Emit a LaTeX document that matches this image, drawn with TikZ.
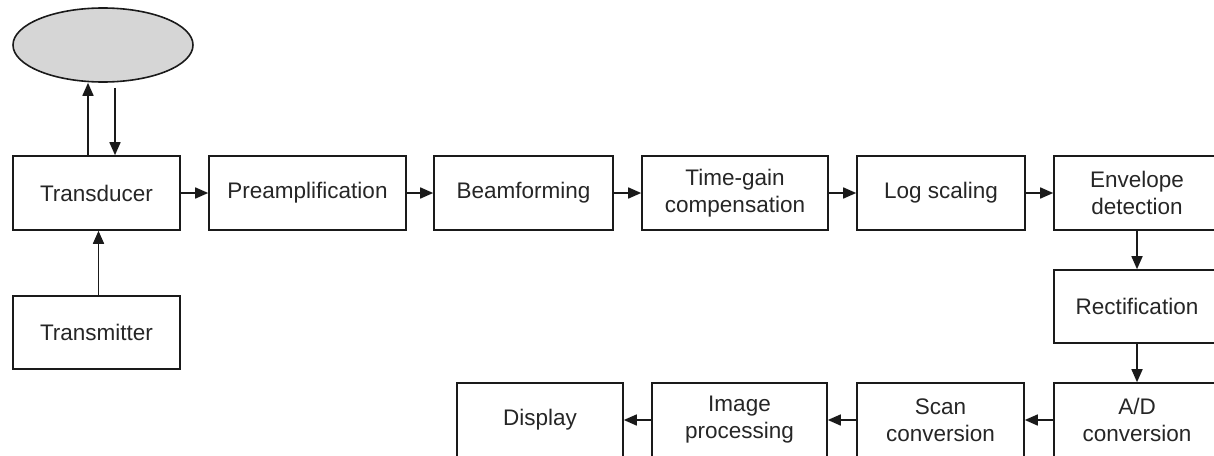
\documentclass[tikz,border=0pt]{standalone}
\usepackage{fontspec}
\setmainfont{Liberation Sans}
\usetikzlibrary{arrows.meta,shapes.geometric}
\definecolor{txt}{HTML}{262626}
\definecolor{ln}{HTML}{1A1A1A}
\definecolor{ellfill}{HTML}{D6D6D6}
\begin{document}
\begin{tikzpicture}[x=1pt,y=-1pt,
  box/.style={draw=ln,line width=1.6pt,fill=white,minimum height=74pt,inner sep=0pt,align=center,text=txt,font=\fontsize{22.5}{27}\selectfont},
  arr/.style={draw=ln,line width=1.6pt,-{Triangle[length=13pt,width=11pt]}}]
\useasboundingbox (0,0) rectangle (1214,455);
\node[box,minimum width=167pt] (trans) at (96.5,193) {Transducer};
\node[box,minimum width=197pt] (pre) at (307.5,193) {Preamplification};
\node[box,minimum width=179pt] (beam) at (523.5,193) {Beamforming};
\node[box,minimum width=186pt] (tgc) at (735,193) {Time-gain\\compensation};
\node[box,minimum width=168pt] (log) at (941,193) {Log scaling};
\node[box,minimum width=166pt] (env) at (1137,193) {Envelope\\detection};
\node[box,minimum width=166pt,minimum height=73pt] (rect) at (1137,306.5) {Rectification};
\node[box,minimum width=166pt] (ad) at (1137,420) {A/D\\conversion};
\node[box,minimum width=167pt] (scan) at (940.5,420) {Scan\\conversion};
\node[box,minimum width=175pt] (img) at (739.5,420) {Image\\processing};
\node[box,minimum width=166pt] (disp) at (540,420) {Display};
\node[box,minimum width=167pt,minimum height=73pt] (tx) at (96.5,332.5) {Transmitter};
\node[ellipse,draw=ln,line width=1.6pt,fill=ellfill,minimum width=180pt,minimum height=74pt,inner sep=0pt] (obj) at (103,45) {};
\coordinate (cu) at (88,0);
\coordinate (cd) at (115,0);
\coordinate (ct) at (98.5,0);
\coordinate (ds) at ([yshift=-5pt]obj.south);
\draw[arr] (trans.north -| cu) -- (obj.south -| cu);
\draw[arr] (ds -| cd) -- (trans.north -| cd);
\draw[arr] (tx.north -| ct) -- (trans.south -| ct);
\draw[arr] (trans.east) -- (pre.west);
\draw[arr] (pre.east) -- (beam.west);
\draw[arr] (beam.east) -- (tgc.west);
\draw[arr] (tgc.east) -- (log.west);
\draw[arr] (log.east) -- (env.west);
\draw[arr] (env.south) -- (rect.north);
\draw[arr] (rect.south) -- (ad.north);
\draw[arr] (ad.west) -- (scan.east);
\draw[arr] (scan.west) -- (img.east);
\draw[arr] (img.west) -- (disp.east);
\end{tikzpicture}
\end{document}
